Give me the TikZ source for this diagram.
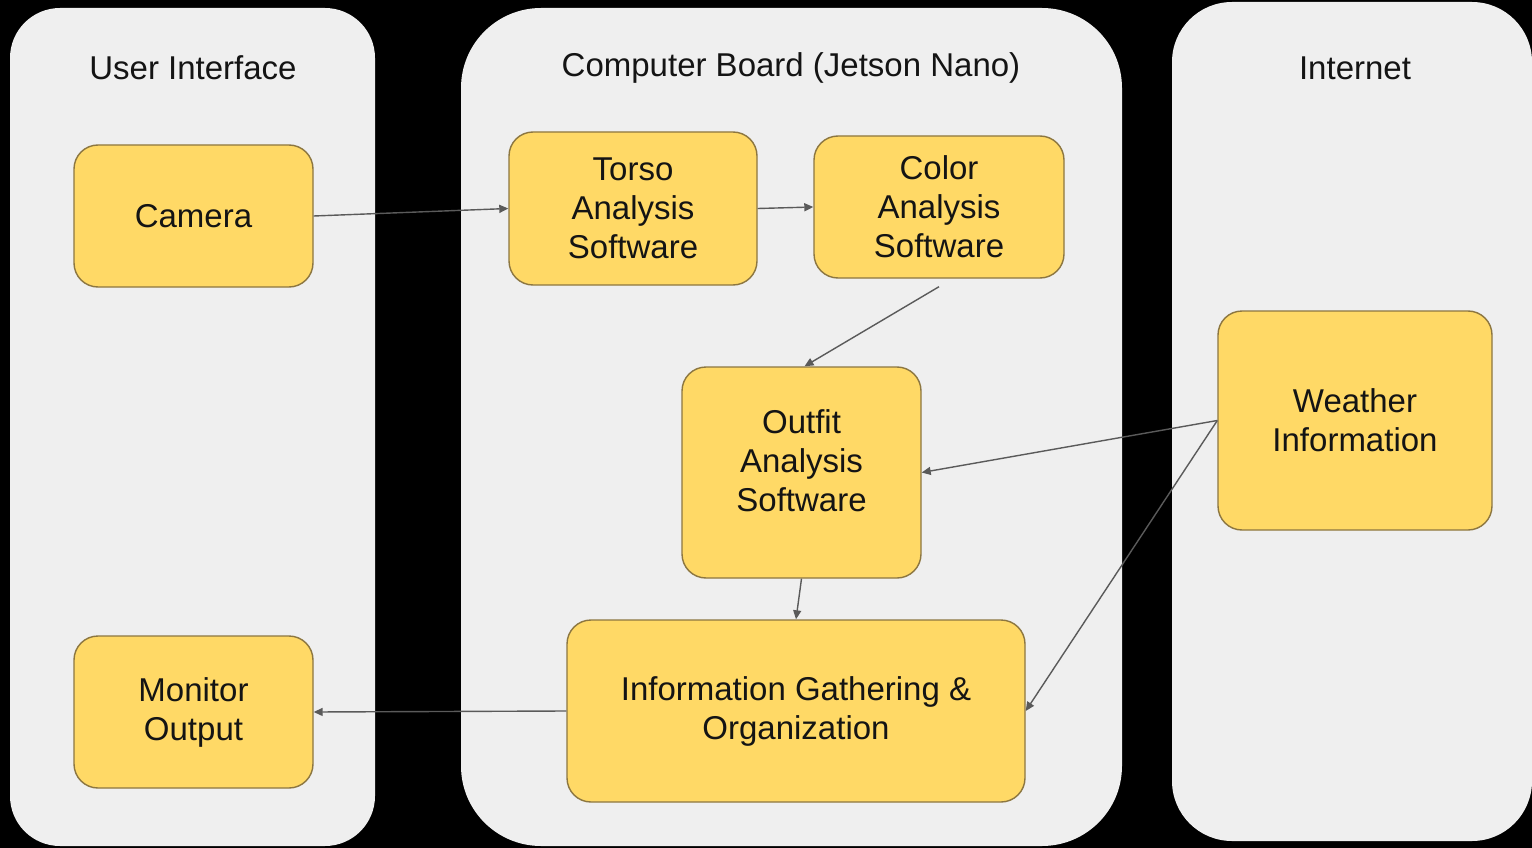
\documentclass[tikz,border=0pt]{standalone}
\usepackage{fontspec}
\setmainfont{Liberation Sans}
\usetikzlibrary{arrows.meta}
\definecolor{panelgray}{HTML}{EFEFEF}
\definecolor{boxfill}{HTML}{FFD966}
\definecolor{boxline}{HTML}{8C7640}
\definecolor{arrowgray}{HTML}{5A5A5A}
\tikzset{
  panel/.style={fill=panelgray, draw=none},
  title/.style={font=\fontsize{33}{39}\selectfont, text=black!92},
  box/.style={draw=boxline, fill=boxfill, line width=1.4pt, rounded corners=24pt,
    align=center, font=\fontsize{33}{39}\selectfont, text=black!92, inner sep=0pt},
  lbl/.style={align=center, font=\fontsize{33}{39}\selectfont, text=black!92, inner sep=0pt},
  conn/.style={draw=arrowgray, line width=1.4pt, -{Triangle[length=9pt,width=8pt]}}
}
\begin{document}
\begin{tikzpicture}[x=1pt,y=-1pt]
\useasboundingbox (0,0) rectangle (1532,848);
\fill[black] (0,0) rectangle (1532,848);
% panels
\fill[panel, rounded corners=50pt] (10,8) rectangle (375,846);
\fill[panel, rounded corners=80pt] (461,8) rectangle (1122,846);
\fill[panel, rounded corners=60pt] (1172,2) rectangle (1532,841);
% panel titles
\node[title] (t-ui) at (193,68) {User Interface};
\node[title] (t-cb) at (791,68) {Computer Board (Jetson Nano)};
\node[title] (t-in) at (1355,68) {Internet};
% boxes
\node[box, minimum width=239pt, minimum height=142pt] (camera) at (193.5,216) {Camera};
\node[box, minimum width=248pt, minimum height=153pt] (torso) at (633,208.5) {Torso\\Analysis\\Software};
\node[box, minimum width=250pt, minimum height=142pt] (color) at (939,207) {Color\\Analysis\\Software};
\node[box, minimum width=239pt, minimum height=211pt] (outfit) at (801.5,472.5) {};
\node[lbl] (outfit-text) at (801.5,461) {Outfit\\Analysis\\Software};
\node[box, minimum width=458pt, minimum height=182pt] (info) at (796,711) {Information Gathering \&\\Organization};
\node[box, minimum width=239pt, minimum height=152pt] (monitor) at (193.5,712) {Monitor\\Output};
\node[box, minimum width=274pt, minimum height=219pt] (weather) at (1355,420.5) {Weather\\Information};
% connectors
\draw[conn] (camera.east) -- (torso.west);
\draw[conn] (torso.east) -- (color.west);
\draw[conn] ([yshift=-8pt]color.south) -- ([xshift=3pt]outfit.north);
\draw[conn] (weather.west) -- (outfit.east);
\draw[conn] (weather.west) -- (info.east);
\draw[conn] (outfit.south) -- (info.north);
\draw[conn] (info.west) -- (monitor.east);
\end{tikzpicture}
\end{document}
